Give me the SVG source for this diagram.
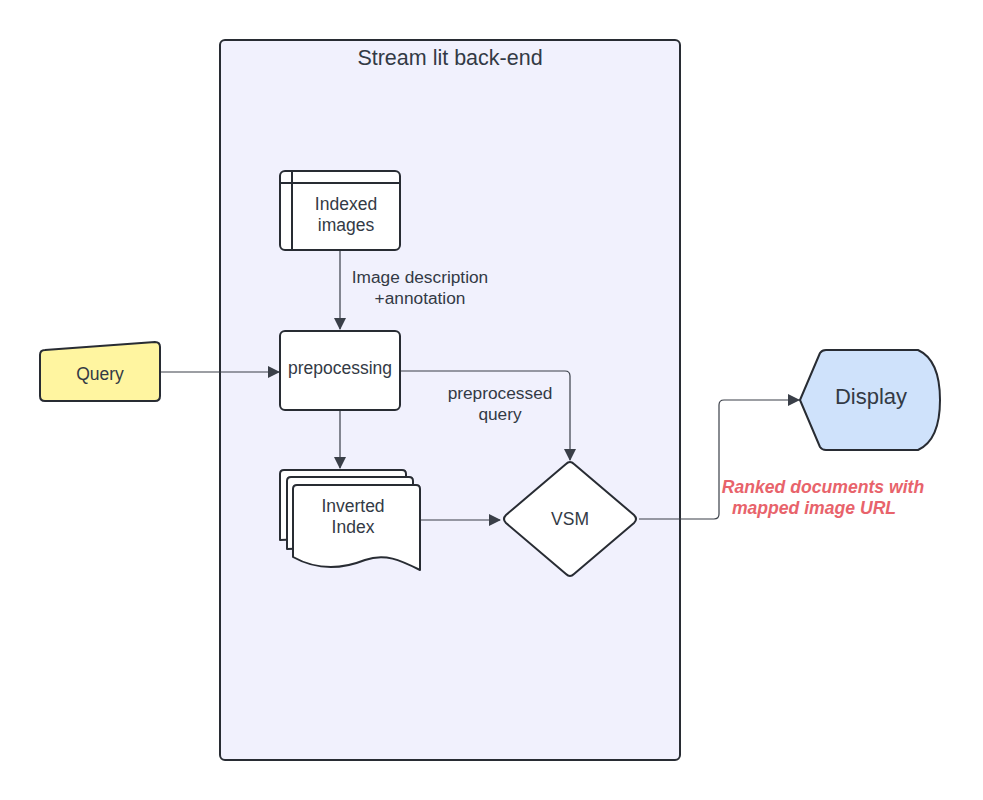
<svg xmlns="http://www.w3.org/2000/svg" width="983" height="800" viewBox="0 0 983 800">
<defs>
<style>
.sh{stroke:#282c33;stroke-width:2;stroke-linejoin:round}
.w{fill:#ffffff}
.t{font-family:"Liberation Sans",Arial,sans-serif;fill:#333a45;text-anchor:middle}
.n{font-size:17.5px}
.c{fill:none;stroke:#3a3f48;stroke-width:1.2}
.lbl{font-family:"Liberation Sans",Arial,sans-serif;fill:#333a45;text-anchor:middle;font-size:17.3px}
.red{font-family:"Liberation Sans",Arial,sans-serif;fill:#e8636b;text-anchor:middle;font-size:17.6px;font-weight:bold;font-style:italic}
</style>
<marker id="ah" viewBox="0 0 12 12" refX="11" refY="6" markerWidth="12" markerHeight="12" markerUnits="userSpaceOnUse" orient="auto">
<path d="M0,0 L12,6 L0,12 Z" fill="#3a3f48"/>
</marker>
</defs>
<rect width="983" height="800" fill="#ffffff"/>

<g id="container">
<rect x="220" y="40" width="460" height="720" rx="5" fill="#f1f1fd" class="sh"/>
<text class="t" x="450" y="65" font-size="21.5">Stream lit back-end</text>
</g>

<g id="connectors">
<path class="c" d="M340,251 L340,329" marker-end="url(#ah)"/>
<path class="c" d="M161,372 L279,372" marker-end="url(#ah)"/>
<path class="c" d="M401,371 L565,371 Q570,371 570,376 L570,460" marker-end="url(#ah)"/>
<path class="c" d="M340,411 L340,468" marker-end="url(#ah)"/>
<path class="c" d="M421,520 L500,520" marker-end="url(#ah)"/>
<path class="c" d="M639,519 L714,519 Q719,519 719,514 L719,405 Q719,400 724,400 L799,400" marker-end="url(#ah)"/>
<text class="lbl" x="420" y="283">Image description</text>
<text class="lbl" x="420" y="304">+annotation</text>
<text class="lbl" x="500" y="399">preprocessed</text>
<text class="lbl" x="500" y="420">query</text>
<text class="red" x="823" y="493">Ranked documents with</text>
<text class="red" x="814" y="514">mapped image URL</text>
</g>

<g id="indexed-images">
<rect x="280" y="171" width="120" height="79" rx="5" class="sh w"/>
<path class="sh" fill="none" d="M280,183 L400,183 M292,171 L292,250"/>
<text class="t n" x="346" y="210">Indexed</text>
<text class="t n" x="346" y="231">images</text>
</g>

<g id="prepocessing">
<rect x="280" y="331" width="120" height="79" rx="5" class="sh w"/>
<text class="t n" x="340" y="374">prepocessing</text>
</g>

<g id="query">
<path class="sh" fill="#fff5a0" d="M45,350 L155,342 Q160,342 160,347 L160,396 Q160,401 155,401 L45,401 Q40,401 40,396 L40,355 Q40,350 45,350 Z"/>
<text class="t n" x="100" y="380">Query</text>
</g>

<g id="inverted-index">
<path class="sh w" d="M284,470 L402,470 Q406,470 406,474 L406,535 L280,540 L280,474 Q280,470 284,470 Z"/>
<path class="sh w" d="M291,477 L409,477 Q413,477 413,481 L413,545 L287,549 L287,481 Q287,477 291,477 Z"/>
<path class="sh w" d="M297,485 L416,485 Q420,485 420,489 L420,570 C400,560 385,553 365,560 C345,568 320,572 293,557 L293,489 Q293,485 297,485 Z"/>
<text class="t n" x="353" y="512">Inverted</text>
<text class="t n" x="353" y="533">Index</text>
</g>

<g id="vsm">
<path class="sh w" d="M566,464 Q570,460 574,464 L634,515 Q638,519 634,523 L574,574 Q570,578 566,574 L506,523 Q502,519 506,515 Z"/>
<text class="t n" x="570" y="525">VSM</text>
</g>

<g id="display">
<path class="sh" fill="#cfe2fb" d="M800,400 L820,353 Q822,350 826,350 L918,350 Q940,360 940,400 Q940,440 918,450 L826,450 Q822,450 820,447 Z"/>
<text class="t" x="871" y="404" font-size="22">Display</text>
</g>
</svg>
